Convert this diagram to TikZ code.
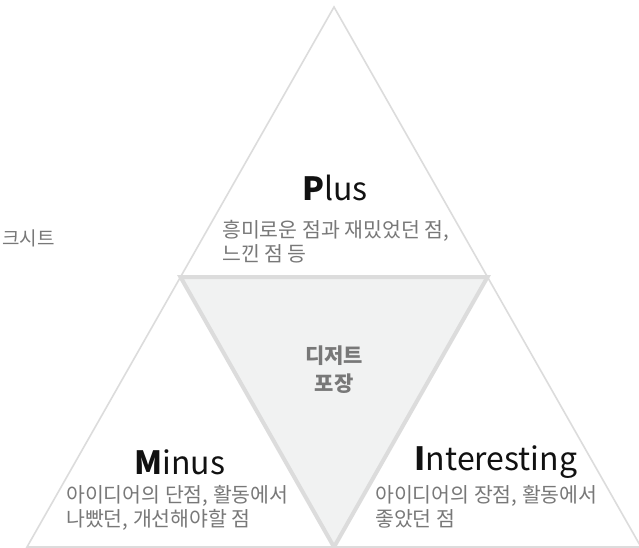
\documentclass[tikz,border=0pt]{standalone}
\usepackage{fontspec}
\setmainfont{Noto Sans CJK KR}
\definecolor{linegray}{HTML}{DCDCDC}
\definecolor{fillgray}{HTML}{F1F2F2}
\definecolor{subgray}{HTML}{787878}
\definecolor{titleblack}{HTML}{111111}
\begin{document}
\begin{tikzpicture}[x=1pt,y=-1pt,
  outerline/.style={draw=linegray,line width=1.6pt,line join=miter},
  innertri/.style={draw=linegray,fill=fillgray,line width=4pt,line join=miter},
  titletext/.style={font=\fontsize{32}{36}\selectfont,text=titleblack,inner sep=0pt},
  subtext/.style={font=\fontsize{20.5}{24}\selectfont,text=subgray,align=left,inner sep=0pt,anchor=north west},
  centertext/.style={font=\fontsize{21}{28}\selectfont\bfseries,text=subgray,align=center,inner sep=0pt}]
\useasboundingbox (0,0) rectangle (639,548);
\clip (0,0) rectangle (639,548);
\fill[white] (0,0) rectangle (639,548);
\coordinate (A) at (334,7);
\coordinate (BL) at (27,547);
\coordinate (BR) at (641,547);
\coordinate (ML) at (180.5,277);
\coordinate (MR) at (487.5,277);
\coordinate (MB) at (334,547);
\draw[outerline] (A) -- (BL) -- (BR) -- cycle;
\draw[innertri] (ML) -- (MR) -- (MB) -- cycle;
\node[titletext] (plus) at (335,188) {\textbf{P}lus};
\node[subtext] (plussub) at (222,220) {흥미로운 점과 재밌었던 점,\\느낀 점 등};
\node[centertext] (center) at (334,370) {디저트\\포장};
\node[titletext] (minus) at (180,462) {\textbf{M}inus};
\node[subtext] (minussub) at (66,485) {아이디어의 단점, 활동에서\\나빴던, 개선해야할 점};
\node[titletext] (inter) at (496,462) {\textbf{I}nteresting};
\node[subtext] (intersub) at (375,485) {아이디어의 장점, 활동에서\\좋았던 점};
\node[font=\fontsize{19}{22}\selectfont,text=subgray,inner sep=0pt,anchor=east] (left) at (55,238) {크시트};
\end{tikzpicture}
\end{document}
